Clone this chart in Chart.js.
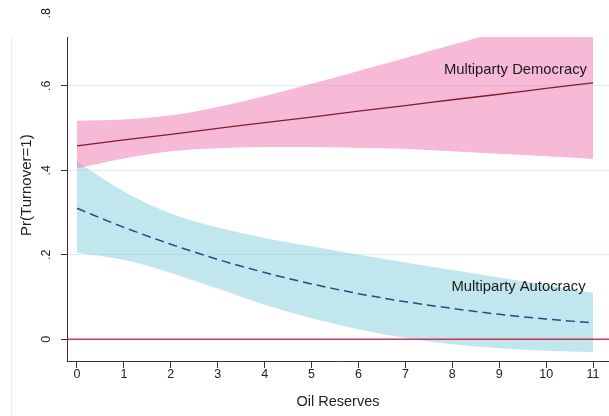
<!DOCTYPE html>
<html>
<head>
<meta charset="utf-8">
<script src="https://cdn.jsdelivr.net/npm/chart.js@4.4.1/dist/chart.umd.min.js"></script>
<style>
  html, body { margin: 0; padding: 0; background: #ffffff; }
  #wrap { position: relative; width: 609px; height: 416px; overflow: hidden; }
  #edge { position: absolute; left: 11px; top: 37px; width: 1px; height: 379px; background: #e1f1ee; }
  canvas { position: absolute; left: 0; top: 0; }
</style>
</head>
<body>
<div id="wrap">
  <div id="edge"></div>
  <canvas id="c" width="609" height="416"></canvas>
</div>
<script>
// Oil reserves (x) and predicted probabilities of turnover with 95% bands
const oilReserves = [0, 1, 2, 3, 4, 5, 6, 7, 8, 9, 10, 11];

const democracyFit   = [0.458, 0.472, 0.485, 0.499, 0.513, 0.526, 0.540, 0.553, 0.567, 0.580, 0.594, 0.607];
const democracyUpper = [0.517, 0.520, 0.530, 0.550, 0.576, 0.605, 0.635, 0.666, 0.697, 0.728, 0.758, 0.788];
const democracyLower = [0.405, 0.428, 0.445, 0.452, 0.455, 0.455, 0.453, 0.451, 0.445, 0.439, 0.433, 0.427];

const autocracyFit   = [0.310, 0.265, 0.225, 0.189, 0.158, 0.131, 0.108, 0.089, 0.073, 0.059, 0.048, 0.039];
const autocracyUpper = [0.420, 0.350, 0.298, 0.265, 0.240, 0.220, 0.200, 0.182, 0.164, 0.146, 0.128, 0.110];
const autocracyLower = [0.205, 0.188, 0.157, 0.120, 0.082, 0.050, 0.024, 0.003, -0.012, -0.021, -0.027, -0.030];

// Axis ticks
const xTickValues = [0, 1, 2, 3, 4, 5, 6, 7, 8, 9, 10, 11];
const yTickValues = [0, 0.2, 0.4, 0.6, 0.8];
const yTickLabels = ['0', '.2', '.4', '.6', '.8'];

// Curve labels, placed in data coordinates (right-aligned)
const seriesLabels = ['Multiparty Democracy', 'Multiparty Autocracy'];
const seriesLabelX = [10.87, 10.84];
const seriesLabelY = [0.637, 0.124];

const xRange = [-0.213, 11.34];
const yRange = [-0.0514, 0.7155];

const FONT = '"Liberation Sans", Arial, Helvetica, sans-serif';
const INK = '#222222';

function pts(ys) { return oilReserves.map((x, i) => ({ x: x, y: ys[i] })); }

const bandCommon = { pointRadius: 0, borderWidth: 0, tension: 0.35, cubicInterpolationMode: 'monotone' };

// Custom drawing: zero reference line, rotated y labels, y title, curve labels
const decorations = {
  id: 'decorations',
  afterDatasetsDraw(chart) {
    const { ctx, chartArea } = chart;
    const ys = chart.scales.y;
    const y0 = ys.getPixelForValue(0);
    ctx.save();
    ctx.beginPath();
    ctx.rect(chartArea.left, chartArea.top, chartArea.right - chartArea.left, chartArea.bottom - chartArea.top);
    ctx.clip();
    ctx.strokeStyle = 'rgba(200, 24, 62, 0.85)';
    ctx.lineWidth = 1.5;
    ctx.beginPath();
    ctx.moveTo(chartArea.left, y0);
    ctx.lineTo(chartArea.right, y0);
    ctx.stroke();
    ctx.restore();
  },
  afterDraw(chart) {
    const { ctx, chartArea } = chart;
    const xs = chart.scales.x;
    const ys = chart.scales.y;
    ctx.save();
    // y tick labels, rotated to read bottom-to-top
    ctx.font = '12.5px ' + FONT;
    ctx.fillStyle = INK;
    ctx.textAlign = 'center';
    ctx.textBaseline = 'middle';
    yTickValues.forEach((v, i) => {
      const w = ctx.measureText(yTickLabels[i]).width;
      let py = ys.getPixelForValue(v);
      py = Math.max(py, w / 2 + 8);
      ctx.save();
      ctx.translate(47, py);
      ctx.rotate(-Math.PI / 2);
      ctx.fillText(yTickLabels[i], 0, 0);
      ctx.restore();
    });
    // y axis title
    ctx.font = '15px ' + FONT;
    const ty = (ys.getPixelForValue(yTickValues[yTickValues.length - 1]) + chartArea.bottom) / 2 + 4;
    ctx.save();
    ctx.translate(27, ty);
    ctx.rotate(-Math.PI / 2);
    ctx.fillText('Pr(Turnover=1)', 0, 0);
    ctx.restore();
    // curve labels
    ctx.font = '14.8px ' + FONT;
    ctx.fillStyle = '#1a1a1a';
    ctx.textAlign = 'right';
    seriesLabels.forEach((t, i) => {
      ctx.fillText(t, xs.getPixelForValue(seriesLabelX[i]), ys.getPixelForValue(seriesLabelY[i]));
    });
    ctx.restore();
  }
};

new Chart(document.getElementById('c'), {
  type: 'line',
  data: {
    datasets: [
      {
        label: 'Multiparty Autocracy',
        data: pts(autocracyFit),
        borderColor: '#1f4f7c',
        borderWidth: 1.5,
        borderDash: [9, 5],
        pointRadius: 0,
        fill: false,
        tension: 0.35,
        cubicInterpolationMode: 'monotone'
      },
      {
        label: 'Multiparty Democracy',
        data: pts(democracyFit),
        borderColor: '#7d1f2e',
        borderWidth: 1.3,
        pointRadius: 0,
        fill: false,
        tension: 0.35,
        cubicInterpolationMode: 'monotone'
      },
      Object.assign({ label: 'Democracy upper', data: pts(democracyUpper), fill: '+1', backgroundColor: 'rgba(238, 128, 180, 0.55)' }, bandCommon),
      Object.assign({ label: 'Democracy lower', data: pts(democracyLower), fill: false }, bandCommon),
      Object.assign({ label: 'Autocracy upper', data: pts(autocracyUpper), fill: '+1', backgroundColor: 'rgba(138, 208, 220, 0.52)' }, bandCommon),
      Object.assign({ label: 'Autocracy lower', data: pts(autocracyLower), fill: false }, bandCommon)
    ]
  },
  options: {
    responsive: false,
    devicePixelRatio: 1,
    animation: false,
    layout: { padding: { top: 37, right: 0, bottom: 0, left: 0 } },
    plugins: {
      legend: { display: false },
      tooltip: { enabled: false },
      filler: { propagate: false }
    },
    scales: {
      x: {
        type: 'linear',
        min: xRange[0],
        max: xRange[1],
        afterBuildTicks: (s) => { s.ticks = xTickValues.map(v => ({ value: v })); },
        afterFit: (s) => { s.height = 55; },
        grid: { drawOnChartArea: false, drawTicks: true, tickLength: 7, tickColor: '#333333', tickWidth: 1 },
        border: { display: true, color: '#333333', width: 1 },
        ticks: {
          autoSkip: false,
          maxRotation: 0,
          padding: -1,
          color: INK,
          font: { family: FONT, size: 12.5 },
          callback: (v) => String(v)
        },
        title: {
          display: true,
          text: 'Oil Reserves',
          color: INK,
          font: { family: FONT, size: 14.5 },
          padding: { top: 0, bottom: 5 }
        }
      },
      y: {
        type: 'linear',
        min: yRange[0],
        max: yRange[1],
        afterBuildTicks: (s) => {
          s.ticks = yTickValues.filter(v => v >= s.min && v <= s.max).map(v => ({ value: v }));
        },
        afterFit: (s) => { s.width = 67; },
        grid: { color: '#dceeed', lineWidth: 1, drawTicks: true, tickLength: 6, tickColor: '#333333', tickWidth: 1 },
        border: { display: true, color: '#333333', width: 1 },
        ticks: { display: false }
      }
    }
  },
  plugins: [decorations]
});
</script>
</body>
</html>
